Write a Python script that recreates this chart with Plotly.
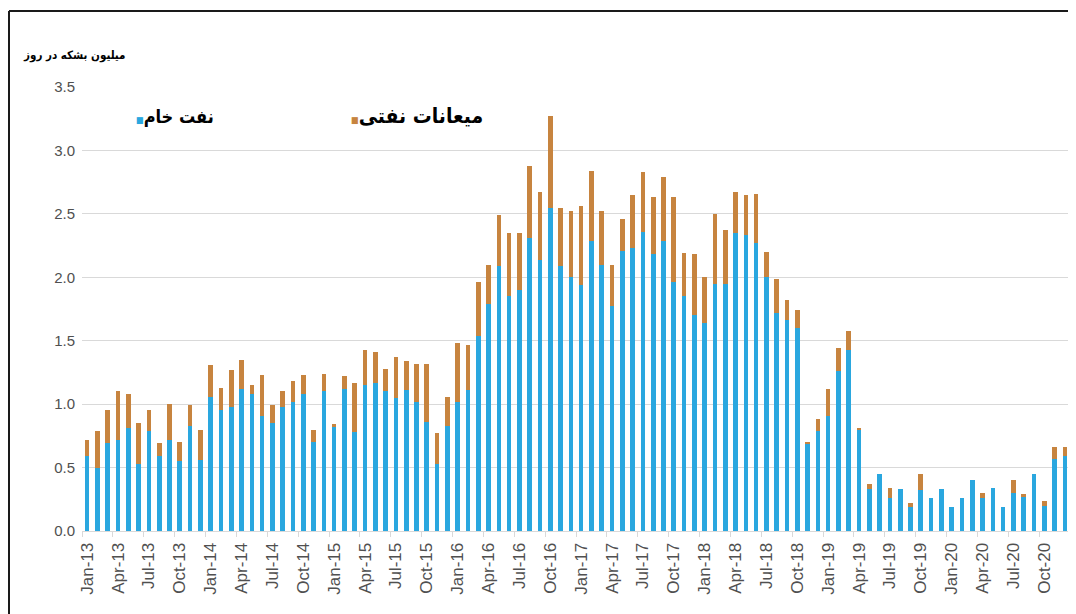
import plotly.graph_objects as go

# ---- data (million barrels per day) ----
months = [f"{m}-{y}" for y in range(13, 21) for m in
          ["Jan", "Feb", "Mar", "Apr", "May", "Jun", "Jul", "Aug", "Sep", "Oct", "Nov", "Dec"]]

crude = [
    0.59, 0.50, 0.69, 0.72, 0.81, 0.53, 0.79, 0.59, 0.72, 0.55, 0.83, 0.56,   # 2013
    1.06, 0.95, 0.98, 1.12, 1.08, 0.91, 0.85, 0.98, 1.02, 1.08, 0.70, 1.10,   # 2014
    0.82, 1.12, 0.78, 1.15, 1.17, 1.10, 1.05, 1.11, 1.02, 0.86, 0.53, 0.83,   # 2015
    1.02, 1.11, 1.54, 1.79, 2.09, 1.85, 1.90, 2.31, 2.14, 2.55, 2.09, 2.00,   # 2016
    1.94, 2.29, 2.10, 1.77, 2.21, 2.23, 2.36, 2.18, 2.29, 1.96, 1.85, 1.70,   # 2017
    1.64, 1.95, 1.95, 2.35, 2.33, 2.27, 2.00, 1.72, 1.66, 1.60, 0.69, 0.79,   # 2018
    0.91, 1.26, 1.43, 0.80, 0.33, 0.45, 0.26, 0.33, 0.19, 0.32, 0.26, 0.33,   # 2019
    0.19, 0.26, 0.40, 0.26, 0.34, 0.19, 0.30, 0.27, 0.45, 0.20, 0.57, 0.59,   # 2020
]

condensate = [
    0.13, 0.29, 0.26, 0.38, 0.27, 0.32, 0.16, 0.10, 0.28, 0.15, 0.16, 0.24,   # 2013
    0.25, 0.18, 0.29, 0.23, 0.07, 0.32, 0.14, 0.12, 0.16, 0.15, 0.10, 0.14,   # 2014
    0.02, 0.10, 0.39, 0.28, 0.24, 0.18, 0.32, 0.23, 0.30, 0.46, 0.24, 0.23,   # 2015
    0.46, 0.36, 0.42, 0.31, 0.40, 0.50, 0.45, 0.57, 0.53, 0.72, 0.46, 0.52,   # 2016
    0.62, 0.55, 0.42, 0.33, 0.25, 0.42, 0.47, 0.45, 0.50, 0.67, 0.34, 0.48,   # 2017
    0.36, 0.55, 0.42, 0.32, 0.32, 0.39, 0.20, 0.27, 0.16, 0.14, 0.01, 0.09,   # 2018
    0.21, 0.18, 0.15, 0.01, 0.04, 0.00, 0.08, 0.00, 0.03, 0.13, 0.00, 0.00,   # 2019
    0.00, 0.00, 0.00, 0.04, 0.00, 0.00, 0.10, 0.02, 0.00, 0.04, 0.09, 0.07,   # 2020
]

y_ticks = [0.0, 0.5, 1.0, 1.5, 2.0, 2.5, 3.0, 3.5]

name_crude = "نفت خام"
name_cond = "میعانات نفتی"
y_title = "میلیون بشکه در روز"

BLUE = "#2AA7DF"
ORANGE = "#C7843F"

# ---- layout geometry (figure pixels; page body adds an 8px offset) ----
OFF = 8
W, H = 1076 - OFF, 614 - OFF
ML, MR, MT, MB = 74, 6, 79, 83
pw, ph = W - ML - MR, H - MT - MB


def px_x(p):
    """screen x pixel -> paper coordinate"""
    return (p - OFF - ML) / pw


def px_y(p):
    """screen y pixel -> paper coordinate"""
    return (H - MB - (p - OFF)) / ph


x = list(range(len(months)))

fig = go.Figure()
fig.add_trace(go.Bar(x=x, y=crude, name=name_crude, marker_color=BLUE,
                     marker_line_width=0, width=0.45))
fig.add_trace(go.Bar(x=x, y=condensate, name=name_cond, marker_color=ORANGE,
                     marker_line_width=0, width=0.45))

latin = "Liberation Sans, Arial, sans-serif"

fig.update_layout(
    barmode="stack",
    width=W, height=H,
    margin=dict(l=ML, r=MR, t=MT, b=MB),
    paper_bgcolor="white", plot_bgcolor="white",
    showlegend=False,
    xaxis=dict(
        range=[-0.5, len(months) - 0.5],
        tickmode="array",
        tickvals=x[::3],
        ticktext=months[::3],
        tickangle=-90,
        tickfont=dict(family=latin, size=17, color="#505050"),
        ticks="",
        showgrid=False,
        zeroline=False,
        showline=True, linecolor="#D9D9D9", linewidth=1,
        ticklabelstandoff=4,
        minor=dict(tickmode="linear", tick0=-0.5, dtick=3, ticks="outside",
                   ticklen=5, tickcolor="#D9D9D9", tickwidth=1, showgrid=False),
    ),
    yaxis=dict(
        range=[0, 3.5],
        tickmode="array",
        tickvals=y_ticks,
        tickformat=".1f",
        tickfont=dict(family=latin, size=15, color="#505050"),
        showgrid=True, gridcolor="#D9D9D9", gridwidth=1,
        zeroline=False,
        showline=False,
        ticks="",
        ticklabelstandoff=6,
    ),
)

arabic = "DejaVu Sans Condensed, DejaVu Sans, sans-serif"

# axis unit title
fig.add_annotation(
    text=f"<b>{y_title}</b>", xref="paper", yref="paper",
    x=px_x(128), y=px_y(55), xanchor="right", yanchor="middle",
    showarrow=False, font=dict(family=arabic, size=11.5, color="#000000"),
)

# legend as text
fig.add_annotation(
    text=f"<span style='color:{BLUE};font-size:9px'>■</span><b>{name_crude}</b>",
    xref="paper", yref="paper", x=px_x(134), y=px_y(116),
    xanchor="left", yanchor="middle", showarrow=False,
    font=dict(family=arabic, size=18, color="#000000"),
)
fig.add_annotation(
    text=f"<span style='color:{ORANGE};font-size:9px'>■</span><b>{name_cond}</b>",
    xref="paper", yref="paper", x=px_x(349), y=px_y(116),
    xanchor="left", yanchor="middle", showarrow=False,
    font=dict(family=arabic, size=21, color="#000000"),
)

# outer frame (left and top edges)
fig.add_shape(type="line", xref="paper", yref="paper",
              x0=px_x(9), y0=px_y(11), x1=px_x(9), y1=px_y(620),
              line=dict(color="#1a1a1a", width=2))
fig.add_shape(type="line", xref="paper", yref="paper",
              x0=px_x(9), y0=px_y(11), x1=px_x(1080), y1=px_y(11),
              line=dict(color="#1a1a1a", width=2))

fig.write_html("out.html")
